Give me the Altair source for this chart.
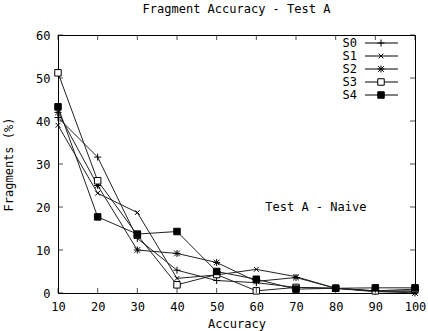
import altair as alt
import pandas as pd

accuracy = [10, 20, 30, 40, 50, 60, 70, 80, 90, 100]
names = ["S0", "S1", "S2", "S3", "S4"]
s0 = [40.8, 31.6, 12.7, 5.3, 2.9, 2.4, 1.3, 1.1, 0.5, 0.5]
s1 = [39.0, 23.2, 18.7, 3.4, 4.2, 5.5, 3.8, 1.1, 0.3, 0.3]
s2 = [42.0, 25.0, 10.0, 9.2, 7.1, 2.7, 3.6, 1.1, 0.4, 0.0]
s3 = [51.2, 26.1, 13.5, 1.9, 4.3, 0.5, 1.3, 1.1, 0.5, 0.9]
s4 = [43.3, 17.7, 13.7, 14.3, 5.0, 3.2, 0.9, 1.1, 1.2, 1.2]
series = [s0, s1, s2, s3, s4]
x_ticks = [10, 20, 30, 40, 50, 60, 70, 80, 90, 100]
y_ticks = [0, 10, 20, 30, 40, 50, 60]
note = "Test A - Naive"

FONT = "DejaVu Sans Mono"
W, H = 357, 258
shapes = [
    "M-1,0L1,0M0,-1L0,1",
    "M-0.8,-0.8L0.8,0.8M-0.8,0.8L0.8,-0.8",
    "M-1,0L1,0M0,-1L0,1M-0.8,-0.8L0.8,0.8M-0.8,0.8L0.8,-0.8",
    "square",
    "square",
]
fills = [None, None, None, "white", "black"]
sizes = [49, 36, 49, 42, 42]

rows = []
for n, vals in zip(names, series):
    for a, v in zip(accuracy, vals):
        rows.append({"series": n, "accuracy": a, "value": v})
df = pd.DataFrame(rows)

xs = alt.Scale(domain=[10, 100], nice=False)
ys = alt.Scale(domain=[0, 60], nice=False)
X_AX = alt.Axis(values=x_ticks, title="Accuracy", ticks=False, domain=False,
                grid=False, labelPadding=8, titlePadding=6,
                labelOverlap=False, labelFlush=False)
Y_AX = alt.Axis(values=y_ticks, title="Fragments (%)", ticks=False, domain=False,
                grid=False, labelPadding=8, titlePadding=20,
                labelOverlap=False, labelFlush=False)

layers = []
lines = alt.Chart(df).mark_line(color="#222", strokeWidth=1).encode(
    x=alt.X("accuracy:Q", scale=xs, axis=X_AX),
    y=alt.Y("value:Q", scale=ys, axis=Y_AX), detail="series:N")
layers.append(lines)

for i, n in enumerate(names):
    sub = df[df.series == n]
    kw = dict(shape=shapes[i], size=sizes[i], strokeWidth=1, color="black", opacity=1)
    if fills[i]:
        kw.update(filled=True, fill=fills[i], stroke="black")
    else:
        kw.update(filled=False)
    layers.append(alt.Chart(sub).mark_point(**kw).encode(
        x=alt.X("accuracy:Q", scale=xs, axis=X_AX), y=alt.Y("value:Q", scale=ys, axis=Y_AX)))

# inward ticks on all four sides
xt = pd.DataFrame({"t": x_ticks})
yt = pd.DataFrame({"t": y_ticks})
TL = 5
layers.append(alt.Chart(xt).mark_tick(orient="vertical", size=TL, yOffset=-TL / 2, color="black", thickness=1).encode(
    x=alt.X("t:Q", scale=xs, axis=X_AX), y=alt.datum(0, scale=ys, axis=Y_AX)))
layers.append(alt.Chart(xt).mark_tick(orient="vertical", size=TL, yOffset=TL / 2, color="black", thickness=1).encode(
    x=alt.X("t:Q", scale=xs, axis=X_AX), y=alt.datum(60, scale=ys, axis=Y_AX)))
layers.append(alt.Chart(yt).mark_tick(orient="horizontal", size=TL, xOffset=TL / 2, color="black", thickness=1).encode(
    y=alt.Y("t:Q", scale=ys, axis=Y_AX), x=alt.datum(10, scale=xs, axis=X_AX)))
layers.append(alt.Chart(yt).mark_tick(orient="horizontal", size=TL, xOffset=-TL / 2, color="black", thickness=1).encode(
    y=alt.Y("t:Q", scale=ys, axis=Y_AX), x=alt.datum(100, scale=xs, axis=X_AX)))

# annotation
layers.append(alt.Chart(pd.DataFrame({"label": [note]})).mark_text(
    font=FONT, fontSize=12, color="black", align="center", baseline="middle").encode(
    x=alt.datum(75, scale=xs, axis=X_AX), y=alt.datum(20, scale=ys, axis=Y_AX), text="label:N"))

# manual gnuplot-style legend (label left, sample right)
for i, n in enumerate(names):
    ly = 8 + 13 * i
    layers.append(alt.Chart(pd.DataFrame({"label": [n]})).mark_text(
        font=FONT, fontSize=12, color="black", align="right", baseline="middle").encode(
        x=alt.value(299), y=alt.value(ly), text="label:N"))
    layers.append(alt.Chart(pd.DataFrame({"label": [n]})).mark_rule(color="black", strokeWidth=1).encode(
        x=alt.value(307), x2=alt.value(340), y=alt.value(ly)))
    kw = dict(shape=shapes[i], size=sizes[i], strokeWidth=1, color="black", opacity=1)
    if fills[i]:
        kw.update(filled=True, fill=fills[i], stroke="black")
    else:
        kw.update(filled=False)
    layers.append(alt.Chart(pd.DataFrame({"label": [n]})).mark_point(**kw).encode(
        x=alt.value(323), y=alt.value(ly)))

chart = alt.layer(*layers).properties(
    width=W, height=H,
    background="white",
    title=alt.TitleParams("Fragment Accuracy - Test A", font=FONT, fontSize=12,
                          fontWeight="normal", anchor="middle", offset=13, color="black"),
    autosize=alt.AutoSizeParams(type="none"),
    padding={"left": 58, "top": 35, "right": 13, "bottom": 38},
).configure_view(stroke="black", strokeWidth=1).configure_axis(
    labelFont=FONT, titleFont=FONT, labelFontSize=12, titleFontSize=12,
    titleFontWeight="normal", labelColor="black", titleColor="black",
    labelOverlap=False, labelFlush=False,
)

chart.save("out.html", embed_options={"renderer": "svg", "actions": False})
